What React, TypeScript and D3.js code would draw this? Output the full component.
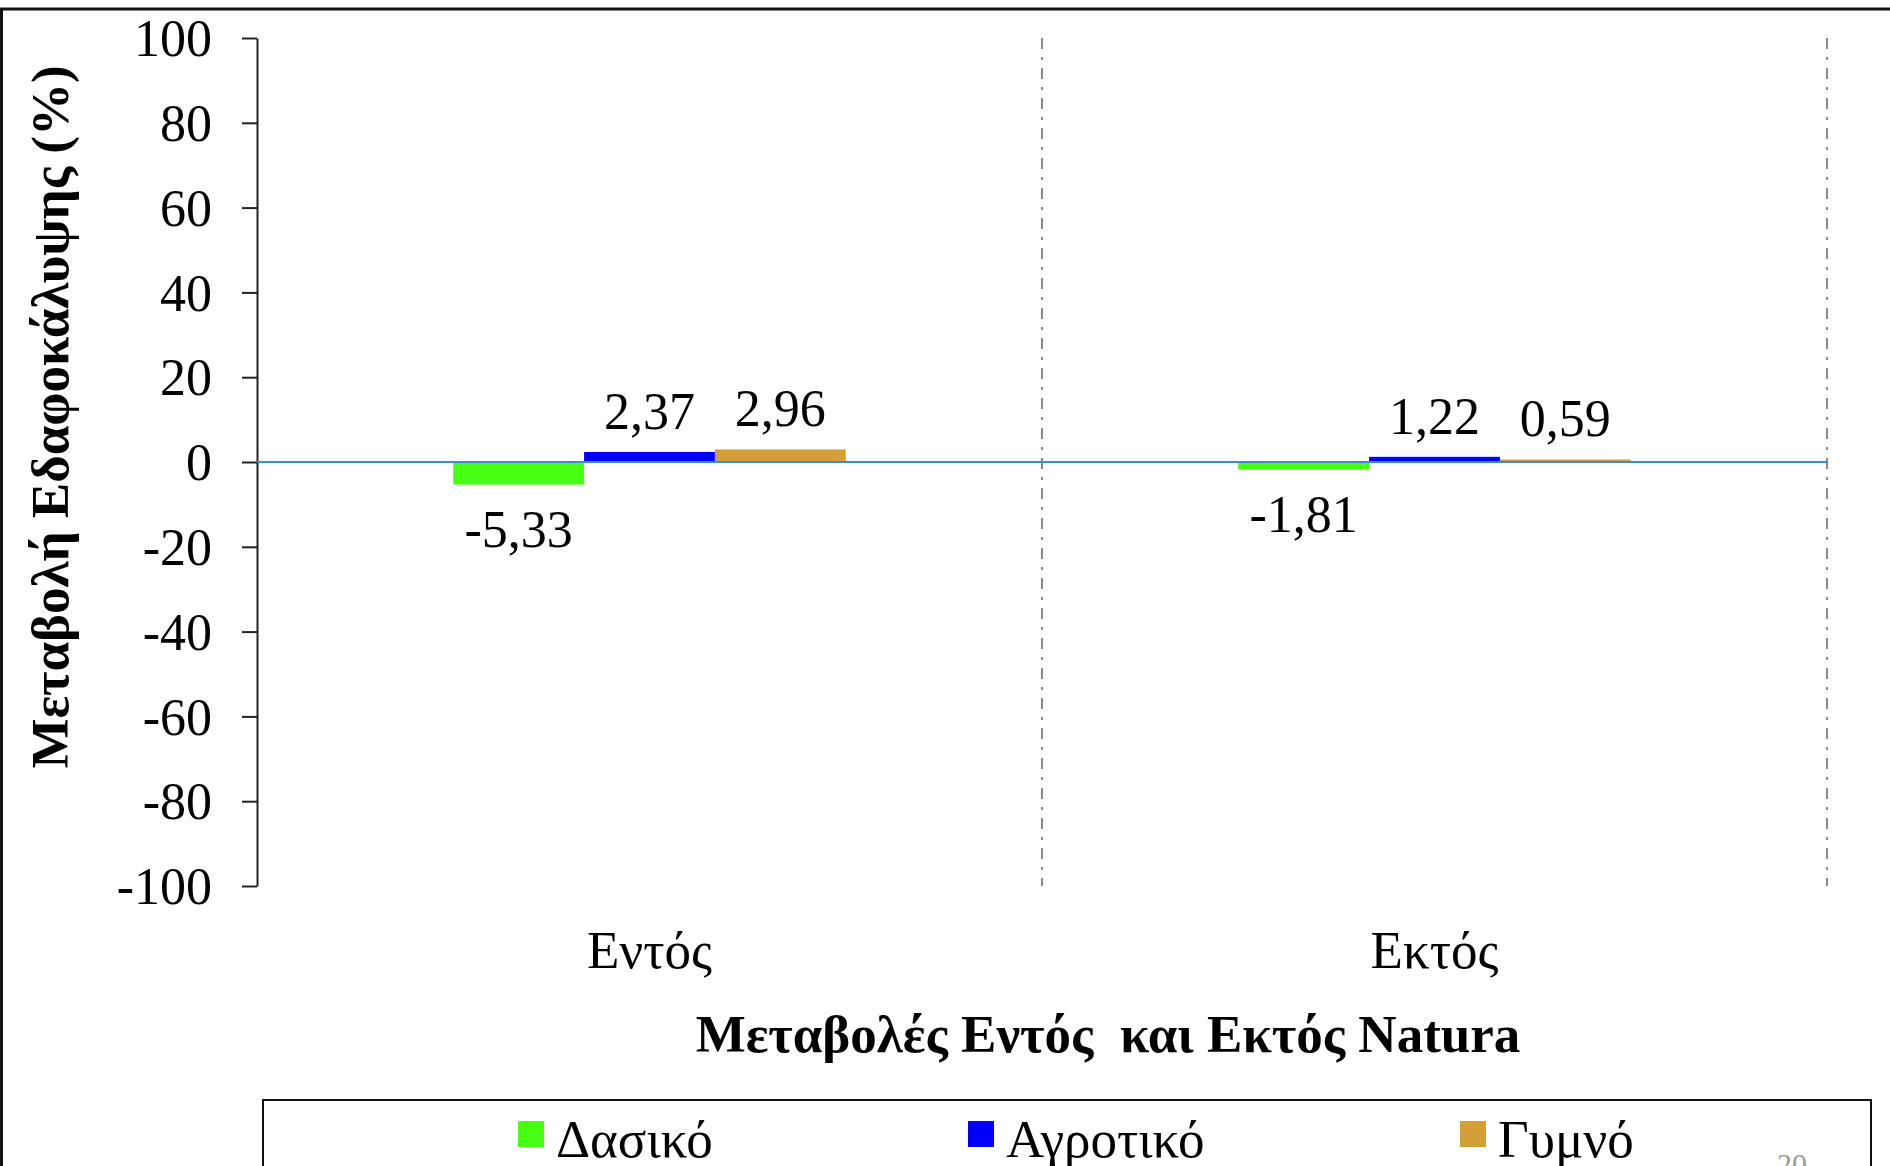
import React, { useEffect, useRef } from 'react';
import * as d3 from 'd3';

const categories = ['Εντός', 'Εκτός'];
const seriesNames = ['Δασικό', 'Αγροτικό', 'Γυμνό'];
const dasiko = [-5.33, -1.81];
const agrotiko = [2.37, 1.22];
const gymno = [2.96, 0.59];
const yTicks = [100, 80, 60, 40, 20, 0, -20, -40, -60, -80, -100];
const seriesColors = ['#46FF12', '#0000FF', '#D49F36'];

const FONT = '"Liberation Serif", "Times New Roman", serif';

const App: React.FC = () => {
  const svgRef = useRef<SVGSVGElement | null>(null);

  useEffect(() => {
    const width = 1890;
    const height = 1166;
    const plot = { left: 257, right: 1827, top: 38, bottom: 886 };
    const values = [dasiko, agrotiko, gymno];

    const svg = d3.select(svgRef.current).attr('width', width).attr('height', height);
    svg.selectAll('*').remove();

    svg.append('rect').attr('width', width).attr('height', height).attr('fill', '#fff');

    // outer frame
    svg
      .append('path')
      .attr('d', `M1.5,${height + 5}V9H${width + 5}`)
      .attr('fill', 'none')
      .attr('stroke', '#111')
      .attr('stroke-width', 3);

    const x0 = d3.scaleBand<string>().domain(categories).range([plot.left, plot.right]).padding(0);
    const x1 = d3
      .scaleBand<string>()
      .domain(seriesNames)
      .range([0, x0.bandwidth()])
      .paddingInner(0)
      .paddingOuter(1.5);
    const y = d3.scaleLinear().domain([-100, 100]).range([plot.bottom, plot.top]);

    // category separators (dash-dot)
    svg
      .append('g')
      .selectAll('line')
      .data(categories)
      .join('line')
      .attr('x1', d => x0(d)! + x0.bandwidth())
      .attr('x2', d => x0(d)! + x0.bandwidth())
      .attr('y1', y(100))
      .attr('y2', y(-100))
      .attr('stroke', '#8a8a8a')
      .attr('stroke-width', 2)
      .attr('stroke-dasharray', '11 8 3 8');

    // y axis
    const yAxis = d3
      .axisLeft(y)
      .tickValues(yTicks)
      .tickSize(15)
      .tickSizeOuter(0)
      .tickPadding(30)
      .tickFormat(d => String(d));
    const ya = svg.append('g').attr('transform', `translate(${plot.left},0)`).call(yAxis);
    ya.selectAll('path, line').attr('stroke', '#222').attr('stroke-width', 2);
    ya.selectAll('text')
      .attr('font-family', FONT)
      .attr('font-size', 52)
      .attr('fill', '#000')
      .attr('dy', '0.34em');

    // bars
    const groups = svg
      .append('g')
      .selectAll('g')
      .data(seriesNames)
      .join('g')
      .attr('fill', (_, i) => seriesColors[i]);

    groups
      .selectAll('rect')
      .data((s, i) => categories.map((c, j) => ({ c, s, v: values[i][j] })))
      .join('rect')
      .attr('x', d => x0(d.c)! + x1(d.s)!)
      .attr('width', x1.bandwidth())
      .attr('y', d => y(Math.max(0, d.v)))
      .attr('height', d => Math.abs(y(d.v) - y(0)));

    // zero line
    svg
      .append('line')
      .attr('x1', plot.left)
      .attr('x2', plot.right)
      .attr('y1', y(0))
      .attr('y2', y(0))
      .attr('stroke', '#3C8CD4')
      .attr('stroke-width', 2);

    // data labels
    const labels = seriesNames.flatMap((s, i) =>
      categories.map((c, j) => ({ c, s, v: values[i][j] }))
    );
    svg
      .append('g')
      .selectAll('text')
      .data(labels)
      .join('text')
      .attr('x', d => x0(d.c)! + x1(d.s)! + x1.bandwidth() / 2)
      .attr('y', d => (d.v >= 0 ? y(d.v) - 23 : y(d.v) + 62))
      .attr('text-anchor', 'middle')
      .attr('font-family', FONT)
      .attr('font-size', 52)
      .text(d => d.v.toFixed(2).replace('.', ','));

    // category labels
    svg
      .append('g')
      .selectAll('text')
      .data(categories)
      .join('text')
      .attr('x', d => x0(d)! + x0.bandwidth() / 2)
      .attr('y', 968)
      .attr('text-anchor', 'middle')
      .attr('font-family', FONT)
      .attr('font-size', 53)
      .text(d => d);

    // axis titles
    svg
      .append('text')
      .attr('x', 1108)
      .attr('y', 1052)
      .attr('text-anchor', 'middle')
      .attr('font-family', FONT)
      .attr('font-weight', 'bold')
      .attr('font-size', 53)
      .attr('xml:space', 'preserve')
      .text('Μεταβολές Εντός  και Εκτός Natura');

    svg
      .append('text')
      .attr('transform', 'translate(68,417) rotate(-90)')
      .attr('text-anchor', 'middle')
      .attr('font-family', FONT)
      .attr('font-weight', 'bold')
      .attr('font-size', 53)
      .text('Μεταβολή Εδαφοκάλυψης (%)');

    // legend
    svg
      .append('rect')
      .attr('x', 263)
      .attr('y', 1100)
      .attr('width', 1608)
      .attr('height', 120)
      .attr('fill', '#fff')
      .attr('stroke', '#111')
      .attr('stroke-width', 2);

    const legendX = [518, 968, 1460];
    const lg = svg
      .append('g')
      .selectAll('g')
      .data(seriesNames)
      .join('g')
      .attr('transform', (_, i) => `translate(${legendX[i]},1121)`);
    lg.append('rect')
      .attr('width', 26)
      .attr('height', 26)
      .attr('fill', (_, i) => seriesColors[i]);
    lg.append('text')
      .attr('x', 38)
      .attr('y', 36)
      .attr('font-family', FONT)
      .attr('font-size', 53)
      .text(d => d);

    // page number
    svg
      .append('text')
      .attr('x', 1792)
      .attr('y', 1174)
      .attr('text-anchor', 'middle')
      .attr('font-family', FONT)
      .attr('font-size', 30)
      .attr('fill', '#9a9a9a')
      .text('20');
  }, []);

  return <svg ref={svgRef} style={{ position: 'absolute', left: 0, top: 0 }}></svg>;
};

export default App;
